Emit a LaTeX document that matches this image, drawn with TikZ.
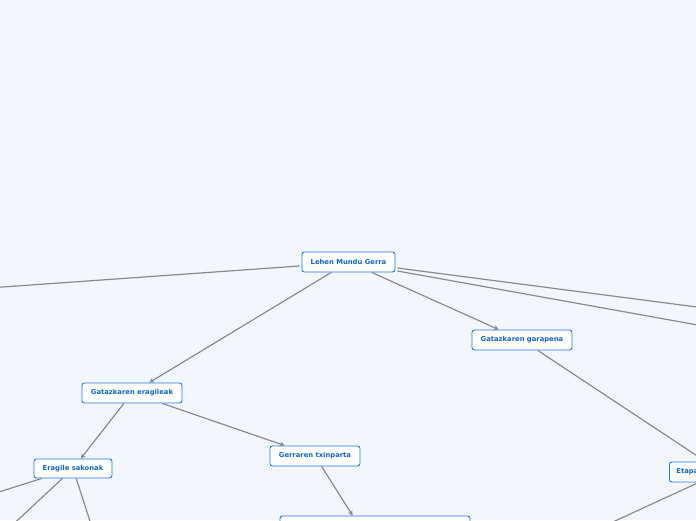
\documentclass[tikz,border=0pt]{standalone}
\usepackage{fontspec}
\setmainfont{DejaVu Sans}
\usetikzlibrary{arrows.meta}
\definecolor{bg}{HTML}{F2F6FD}
\definecolor{nodeblue}{HTML}{1E7BE0}
\definecolor{textblue}{HTML}{1565C0}
\definecolor{edgegray}{HTML}{878B94}
\tikzset{
  topic/.style={draw=nodeblue, line width=0.9pt, fill=white, rounded corners=2.5pt,
    text=textblue, font=\fontsize{6.8}{8}\selectfont\bfseries, minimum height=20pt, inner xsep=7pt},
  link/.style={draw=edgegray, line width=1.2pt},
  arrowlink/.style={link, -{Stealth[length=5pt,width=5pt]}}
}
\begin{document}
\begin{tikzpicture}[x=1pt,y=-1pt]
\fill[bg] (0,0) rectangle (696,520);
\useasboundingbox (0,0) rectangle (696,520);
\clip (0,0) rectangle (696,520);
% off-canvas ends
\coordinate (l1) at (-40,290);
\coordinate (r1) at (720,310);
\coordinate (r2) at (720,329);
\coordinate (s1) at (-20,498);
\coordinate (s2) at (-10,546);
\coordinate (s3) at (98,546);
\coordinate (e1) at (565,544);
% nodes
\node[topic, minimum width=93pt] (root) at (348.5,262) {Lehen Mundu Gerra};
\node[topic, minimum width=100pt] (garapena) at (522,340) {Gatazkaren garapena};
\node[topic, minimum width=100pt] (eragileak) at (132,393) {Gatazkaren eragileak};
\node[topic, minimum width=78pt, minimum height=19pt] (sakonak) at (73,468.5) {Eragile sakonak};
\node[topic, minimum width=90pt] (txinparta) at (315,456) {Gerraren txinparta};
\node[topic, minimum width=190pt, minimum height=70pt] (bottom) at (375,551) {};
\node[topic, anchor=west, text width=90pt, align=left] (etapak) at (669,472) {Etapak};
% connectors
\draw[link] (root.west) ++(-2,4) -- (l1);
\draw[link] (root.east) ++(2,6) coordinate (ra) -- (r1);
\draw[link] (root.east) ++(2,9) coordinate (rb) -- (r2);
\draw[arrowlink] (root) -- (eragileak);
\draw[arrowlink] (root) -- (garapena);
\draw[link] (garapena) -- (etapak);
\draw[arrowlink] (eragileak) -- (sakonak);
\draw[arrowlink] (eragileak) -- (txinparta);
\draw[arrowlink] (txinparta) -- (bottom);
\draw[link] (sakonak) -- (s1);
\draw[link] (sakonak) -- (s2);
\draw[link] (sakonak) -- (s3);
\draw[link] (etapak) -- (e1);
\end{tikzpicture}
\end{document}
